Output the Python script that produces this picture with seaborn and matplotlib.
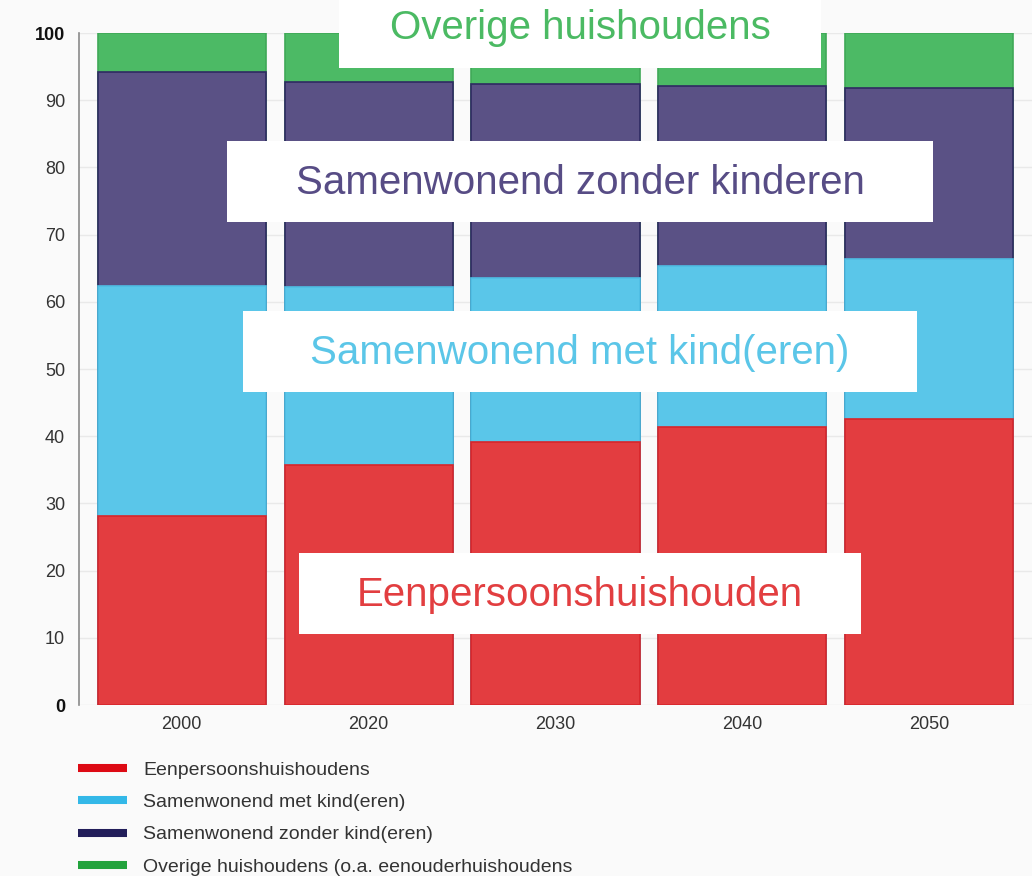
import matplotlib
matplotlib.use("Agg")
import matplotlib.pyplot as plt
import seaborn as sns
import pandas as pd
import numpy as np
from matplotlib.lines import Line2D
from matplotlib.patches import Rectangle

years = ["2000", "2020", "2030", "2040", "2050"]
eenpersoons = [28.1, 35.7, 39.1, 41.4, 42.6]
met_kind = [34.3, 26.5, 24.4, 23.9, 23.8]
zonder_kind = [31.8, 30.5, 28.9, 26.8, 25.4]
overige = [5.8, 7.3, 7.6, 7.9, 8.2]

legend_labels = ["Eenpersoonshuishoudens", "Samenwonend met kind(eren)",
                 "Samenwonend zonder kind(eren)", "Overige huishoudens (o.a. eenouderhuishoudens"]
overlay_labels = ["Eenpersoonshuishouden", "Samenwonend met kind(eren)",
                  "Samenwonend zonder kinderen", "Overige huishoudens"]

fill_colors = ["#E33D40", "#5AC6E9", "#5A5185", "#4CBA65"]
edge_colors = ["#D8262B", "#4FBDE3", "#2E2A62", "#3FA957"]
legend_colors = ["#DD0A14", "#33B8E8", "#221E5A", "#22A33C"]
overlay_colors = ["#E23E40", "#5BC6E8", "#574C85", "#4BBA63"]

sns.set_theme(style="white")
plt.rcParams["font.family"] = ["Liberation Sans", "DejaVu Sans"]

bg = "#FAFAFA"
fig = plt.figure(figsize=(10.32, 8.76), dpi=100, facecolor=bg)
ax = fig.add_axes([79/1032, 1-705/876, 1-79/1032, (705-33)/876])
ax.set_facecolor(bg)

df = pd.DataFrame({"year": years, "e": eenpersoons, "m": met_kind, "z": zonder_kind, "o": overige})
layers = [df["e"], df["e"] + df["m"], df["e"] + df["m"] + df["z"], df["e"] + df["m"] + df["z"] + df["o"]]
for i in [3, 2, 1, 0]:
    sns.barplot(x=df["year"], y=layers[i], color=fill_colors[i], saturation=1, width=0.9,
                edgecolor=edge_colors[i], linewidth=1.2, ax=ax, zorder=2)

ax.set_ylim(0, 100)
ax.set_xlim(-0.55, 4.55)
ax.set_yticks(np.arange(0, 101, 10))
ax.set_xlabel("")
ax.set_ylabel("")
ax.yaxis.grid(True, color="#E9E9E9", linewidth=1)
ax.set_axisbelow(True)
for s in ["top", "right", "bottom"]:
    ax.spines[s].set_visible(False)
ax.spines["left"].set_color("#8A8A8A")
ax.spines["left"].set_linewidth(1.2)
ax.tick_params(axis="y", length=0, pad=10, labelsize=13, labelcolor="#333333")
ax.tick_params(axis="x", length=0, pad=8, labelsize=13, labelcolor="#333333")
for lab in ax.get_yticklabels():
    if lab.get_text() in ("0", "100"):
        lab.set_fontweight("bold")
        lab.set_color("#111111")

handles = [Line2D([0], [0], color=c, lw=5.8, solid_capstyle="butt") for c in legend_colors]
leg = fig.legend(handles, legend_labels, loc="upper left", bbox_to_anchor=(78/1032, 1-761/876),
                 frameon=False, fontsize=14, handlelength=2.52, handletextpad=0.82,
                 labelspacing=0.76, borderpad=0, borderaxespad=0)
for t in leg.get_texts():
    t.set_color("#333333")

# overlay label boxes (pixel coordinates converted to figure fraction)
W, H = 1032, 876
boxes = [(299, 553, 861, 634, 595), (243, 311, 917, 392, 353),
         (227, 141, 933, 222, 183), (339, -5, 821, 68, 28)]
for (x0, y0, x1, y1, yc), txt, col in zip(boxes, overlay_labels, overlay_colors):
    fig.patches.append(Rectangle((x0/W, 1-y1/H), (x1-x0)/W, (y1-y0)/H, transform=fig.transFigure,
                                 facecolor="white", edgecolor="none", zorder=5))
    fig.text(580/W, 1-yc/H, txt, color=col, fontsize=29, ha="center", va="center",
             zorder=6)

fig.savefig("out.png", dpi=100, facecolor=bg)
